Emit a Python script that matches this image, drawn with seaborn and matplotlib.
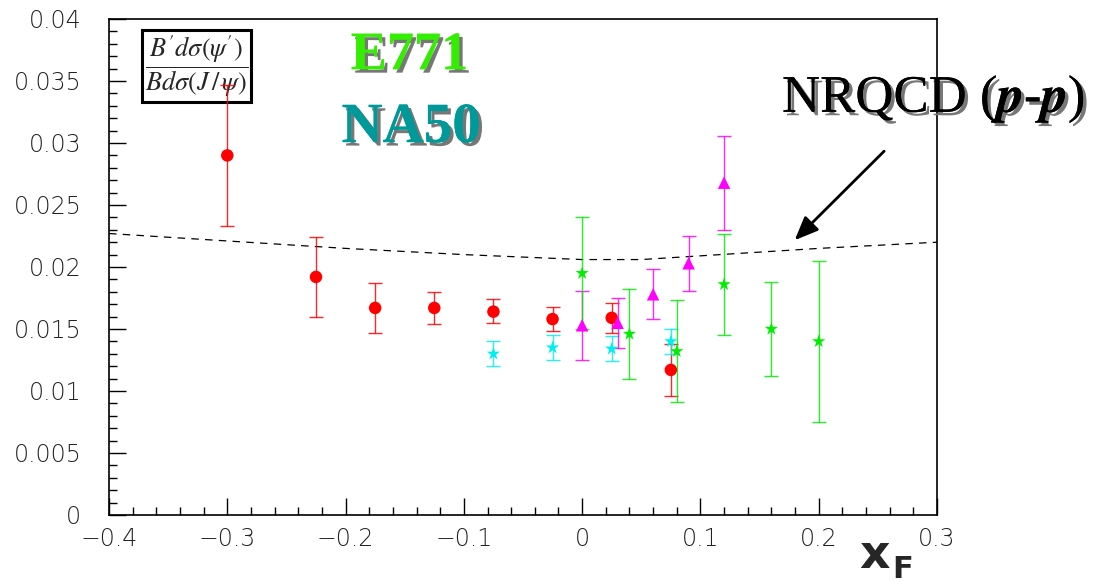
import numpy as np
import pandas as pd
import matplotlib
matplotlib.use("Agg")
import matplotlib.pyplot as plt
import matplotlib.patheffects as pe
from matplotlib.ticker import MultipleLocator
import seaborn as sns

# ---- data ----
red_x = [-0.3, -0.225, -0.175, -0.125, -0.075, -0.025, 0.025, 0.075]
red_y = [0.0290, 0.0192, 0.0167, 0.0167, 0.0164, 0.0158, 0.0159, 0.0117]
red_lo = [0.0233, 0.0160, 0.0147, 0.0154, 0.0155, 0.0148, 0.0147, 0.0096]
red_hi = [0.0347, 0.0224, 0.0187, 0.0180, 0.0174, 0.0168, 0.0171, 0.0138]

cyan_x = [-0.075, -0.025, 0.025, 0.075]
cyan_y = [0.0130, 0.0135, 0.0134, 0.0140]
cyan_lo = [0.0120, 0.0125, 0.0124, 0.0130]
cyan_hi = [0.0140, 0.0145, 0.0144, 0.0150]

mag_x = [0.0, 0.03, 0.06, 0.09, 0.12]
mag_y = [0.0153, 0.0155, 0.0178, 0.0203, 0.0268]
mag_lo = [0.0125, 0.0135, 0.0158, 0.0181, 0.0230]
mag_hi = [0.0181, 0.0175, 0.0198, 0.0225, 0.0306]

grn_x = [0.0, 0.04, 0.08, 0.12, 0.16, 0.20]
grn_y = [0.0195, 0.0146, 0.0132, 0.0186, 0.0150, 0.0140]
grn_lo = [0.0150, 0.0110, 0.0091, 0.0145, 0.0112, 0.0075]
grn_hi = [0.0240, 0.0182, 0.0173, 0.0227, 0.0188, 0.0205]

nrqcd_x = [-0.4, -0.3, -0.2, -0.1, 0.0, 0.05, 0.1, 0.2, 0.3]
nrqcd_y = [0.0227, 0.0221, 0.0215, 0.0210, 0.0206, 0.0206, 0.0209, 0.0215, 0.0220]

xticks = [-0.4, -0.3, -0.2, -0.1, 0.0, 0.1, 0.2, 0.3]
xticklabels = ["\u22120.4", "\u22120.3", "\u22120.2", "\u22120.1", "0", "0.1", "0.2", "0.3"]
yticks = [0, 0.005, 0.01, 0.015, 0.02, 0.025, 0.03, 0.035, 0.04]
yticklabels = ["0", "0.005", "0.01", "0.015", "0.02", "0.025", "0.03", "0.035", "0.04"]

sns.set_theme(style="white")
plt.rcParams["font.family"] = ["DejaVu Sans"]
plt.rcParams["mathtext.fontset"] = "stix"

fig = plt.figure(figsize=(11.05, 5.88), dpi=100)
ax = fig.add_axes([109 / 1105, 1 - 515 / 588, (937 - 109) / 1105, (515 - 19) / 588])

series = [
    (red_x, red_y, red_lo, red_hi, "#ff0000", "o", 9),
    (cyan_x, cyan_y, cyan_lo, cyan_hi, "#00f0f0", "*", 10),
    (mag_x, mag_y, mag_lo, mag_hi, "#ff00ff", "^", 9),
    (grn_x, grn_y, grn_lo, grn_hi, "#00ee00", "*", 10),
]

for xs, ys, lo, hi, col, mk, ms in series:
    ys_a = np.array(ys)
    yerr = [ys_a - np.array(lo), np.array(hi) - ys_a]
    ax.errorbar(xs, ys, yerr=yerr, fmt="none", ecolor=col, elinewidth=1.0,
                capsize=5, capthick=1.0, alpha=0.85, zorder=2)
    df = pd.DataFrame({"x": xs, "y": ys})
    sns.scatterplot(data=df, x="x", y="y", ax=ax, color=col, marker=mk,
                    s=ms ** 2, edgecolor="none", linewidth=0, zorder=3, legend=False)

df_n = pd.DataFrame({"x": nrqcd_x, "y": nrqcd_y})
sns.lineplot(data=df_n, x="x", y="y", ax=ax, color="black", linewidth=0.9,
             linestyle=(0, (6, 5)), zorder=1)

ax.set_xlim(-0.4, 0.3)
ax.set_ylim(0, 0.04)
ax.set_xticks(xticks)
ax.set_xticklabels(xticklabels)
ax.set_yticks(yticks)
ax.set_yticklabels(yticklabels)
ax.xaxis.set_minor_locator(MultipleLocator(0.02))
ax.yaxis.set_minor_locator(MultipleLocator(0.001))
ax.tick_params(axis="both", which="major", direction="in", length=12, width=1,
               color="black", labelsize=17, bottom=True, left=True, top=False, right=False)
ax.tick_params(axis="both", which="minor", direction="in", length=6, width=1,
               color="black", bottom=True, left=True, top=False, right=False)
ax.tick_params(axis="y", which="major", pad=20)
ax.tick_params(axis="x", which="major", pad=9)
for lab in ax.get_xticklabels() + ax.get_yticklabels():
    lab.set_fontweight(200)
    lab.set_color("#222222")
for sp in ax.spines.values():
    sp.set_color("black")
    sp.set_linewidth(1.2)
ax.set_xlabel("")
ax.set_ylabel("")

shadow = [pe.withSimplePatchShadow(offset=(2.5, -2.5), shadow_rgbFace="#777777", alpha=1.0), pe.Normal()]

ax.text(-0.146, 0.0370, "E771", color="#33ee00", fontsize=39, fontweight="bold",
        family="Liberation Serif", ha="center", va="center", path_effects=shadow)
ax.text(-0.1445, 0.0312, "NA50", color="#009999", fontsize=41, fontweight="bold",
        family="Liberation Serif", ha="center", va="center", path_effects=shadow)
ax.text(0.297, 0.0335, r"NRQCD ($\boldsymbol{p}$-$\boldsymbol{p}$)", color="black", fontsize=38,
        family="Liberation Serif", ha="center", va="center", clip_on=False,
        path_effects=shadow)

ax.annotate("", xy=(0.178, 0.0220), xytext=(0.257, 0.0295),
            arrowprops=dict(arrowstyle="-|>,head_length=1.2,head_width=0.5",
                            color="black", lw=2), annotation_clip=False)

ax.text(0.106, 0.905, r"$\dfrac{B'd\sigma(\psi')}{Bd\sigma(J\,/\,\psi)}$", transform=ax.transAxes,
        fontsize=19, ha="center", va="center", zorder=1.5,
        bbox=dict(boxstyle="square,pad=0.12", facecolor="white", edgecolor="black", linewidth=2.2))

fig.text(875 / 1105, 1 - 555 / 588, "x", fontsize=34, fontweight="bold", ha="center",
         va="center", family="DejaVu Sans")
fig.text(903 / 1105, 1 - 569 / 588, "F", fontsize=22, fontweight="bold", ha="center",
         va="center", family="DejaVu Sans")

fig.savefig("out.png", dpi=100)
